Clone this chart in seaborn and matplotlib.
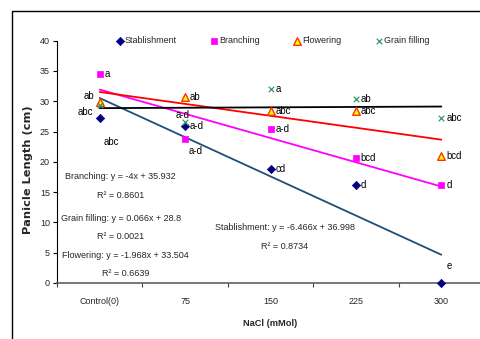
import numpy as np
import pandas as pd
import matplotlib
matplotlib.use('Agg')
import matplotlib.pyplot as plt
import seaborn as sns
from matplotlib.patches import Rectangle

# ---------------- data ----------------
categories = ['Control(0)', '75', '150', '225', '300']
series_names = ['Stablishment', 'Branching', 'Flowering', 'Grain filling']
stablishment = [27.3, 26.0, 18.8, 16.2, 0.0]
branching = [34.5, 23.8, 25.4, 20.6, 16.2]
flowering = [29.9, 30.7, 28.4, 28.4, 21.0]
grain_filling = [29.4, 26.5, 32.0, 30.4, 27.3]

slopes = [-6.466, -4.0, -1.968, 0.066]
intercepts = [36.998, 35.932, 33.504, 28.8]
r_squared = [0.8734, 0.8601, 0.6639, 0.0021]

letters_stablishment = ['abc', 'a-d', 'cd', 'd', 'e']
letters_branching = ['a', 'a-d', 'a-d', 'bcd', 'd']
letters_flowering = ['ab', 'ab', 'abc', 'abc', 'bcd']
letters_grain = ['abc', 'a-d', 'a', 'ab', 'abc']

values = [stablishment, branching, flowering, grain_filling]
letters = [letters_stablishment, letters_branching, letters_flowering, letters_grain]

# ---------------- styles / layout ----------------
FS = 6.5
marker_style = {
    'Stablishment': dict(marker='D', s=18, color='#000080', edgecolor='#000080', linewidth=0.5),
    'Branching': dict(marker='s', s=22, color='#FF00FF', edgecolor='#FF00FF', linewidth=0.5),
    'Flowering': dict(marker='^', s=30, color='#FFFF00', edgecolor='#FF3300', linewidth=1.0),
    'Grain filling': dict(marker='x', s=16, color='#339966', linewidth=0.9),
}
line_colors = {'Stablishment': '#1F4E79', 'Branching': '#FF00FF',
               'Flowering': '#FF0000', 'Grain filling': '#000000'}

# letter offsets in pixels (dx, dy, ha); default right of point
default_off = (5, 0, 'left')
special_off = {
    ('Stablishment', 0): (4, -24, 'left'),
    ('Flowering', 0): (-5, 6, 'right'),
    ('Grain filling', 0): (-7, -7, 'right'),
    ('Grain filling', 1): (-2, 7, 'center'),
    ('Branching', 1): (4, -12, 'left'),
    ('Stablishment', 4): (8, 17, 'center'),
}

# equation text positions in data coords (x index, y value)
eq_pos = {
    'Branching': ((0.24, 17.5), (0.24, 14.5)),
    'Grain filling': ((0.25, 10.6), (0.25, 7.6)),
    'Flowering': ((0.30, 4.6), (0.30, 1.65)),
    'Stablishment': ((2.17, 9.1), (2.17, 6.1)),
}

sns.set_theme(style='white')
plt.rcParams['font.family'] = ['Liberation Sans', 'DejaVu Sans']

fig = plt.figure(figsize=(4.8, 3.39), dpi=100)
ax = fig.add_axes([57 / 480, 56 / 339, 427 / 480, 242.3 / 339])

xs = np.arange(len(categories))
rows = []
for name, vals in zip(series_names, values):
    for i, v in enumerate(vals):
        rows.append(dict(series=name, x=i, y=v))
df = pd.DataFrame(rows)

trend_rows = []
for name, m, b in zip(series_names, slopes, intercepts):
    for i in xs:
        trend_rows.append(dict(series=name, x=i, y=m * (i + 1) + b))
tdf = pd.DataFrame(trend_rows)

for name in series_names:
    sub = tdf[tdf.series == name]
    sns.lineplot(data=sub, x='x', y='y', ax=ax, color=line_colors[name], linewidth=1.3,
                 legend=False, zorder=2)

for name in series_names:
    sub = df[df.series == name]
    st = marker_style[name]
    sns.scatterplot(data=sub, x='x', y='y', ax=ax, label=name, zorder=3, clip_on=False, **st)

# letters
for name, labs in zip(series_names, letters):
    vals = values[series_names.index(name)]
    for i, (lab, v) in enumerate(zip(labs, vals)):
        dx, dy, ha = special_off.get((name, i), default_off)
        ax.annotate(lab, (i, v), xytext=(dx, dy), textcoords='offset pixels',
                    ha=ha, va='center', fontsize=6.9, color='black')

# equations
for name, m, b, r2 in zip(series_names, slopes, intercepts, r_squared):
    (x1, y1), (x2, y2) = eq_pos[name]
    ax.text(x1, y1, f'{name}: y = {m:g}x + {b:g}', ha='center', va='center', fontsize=FS)
    ax.text(x2, y2, f'R\u00b2 = {r2:.4f}', ha='center', va='center', fontsize=FS)

ax.set_xlim(-0.5, 4.5)
ax.set_ylim(0, 40)
ax.set_yticks(np.arange(0, 41, 5))
ax.set_xticks(xs)
ax.set_xticklabels(categories)
ax.set_xticks(np.arange(-0.5, 4.6, 1), minor=True)
ax.tick_params(axis='x', which='major', length=0, pad=10, labelsize=FS)
ax.tick_params(axis='x', which='minor', length=3, width=0.8, direction='out', color='#404040', bottom=True)
ax.tick_params(axis='y', which='major', length=3, width=0.8, direction='out', color='black', left=True,
               pad=2, labelsize=FS)

for s in ['top', 'right']:
    ax.spines[s].set_visible(False)
ax.spines['left'].set_color('black')
ax.spines['left'].set_linewidth(0.8)
ax.spines['bottom'].set_color('#606060')
ax.spines['bottom'].set_linewidth(1.2)
ax.set_facecolor('white')

ax.set_xlabel('NaCl (mMol)', fontsize=6.7, fontweight='bold')
ax.xaxis.set_label_coords(0.5, -36 / 242.3)
ax.set_ylabel('Panicle Length (cm)', fontsize=8.2, fontweight='bold', family='DejaVu Sans')
ax.yaxis.set_label_coords(-24 / 427, (283 - 170) / 242.3)

leg = ax.legend(loc='center', bbox_to_anchor=(0.505, 1.0), ncol=4, frameon=False, fontsize=FS,
                handletextpad=0.1, columnspacing=3.8, handlelength=0.8, borderaxespad=0,
                borderpad=0)

fig.patches.append(Rectangle((12 / 480, -0.2), 1.5, 0.2 + (1 - 11 / 339), transform=fig.transFigure,
                             fill=False, edgecolor='black', linewidth=1.0))

fig.savefig('out.png', dpi=100, facecolor='white')
